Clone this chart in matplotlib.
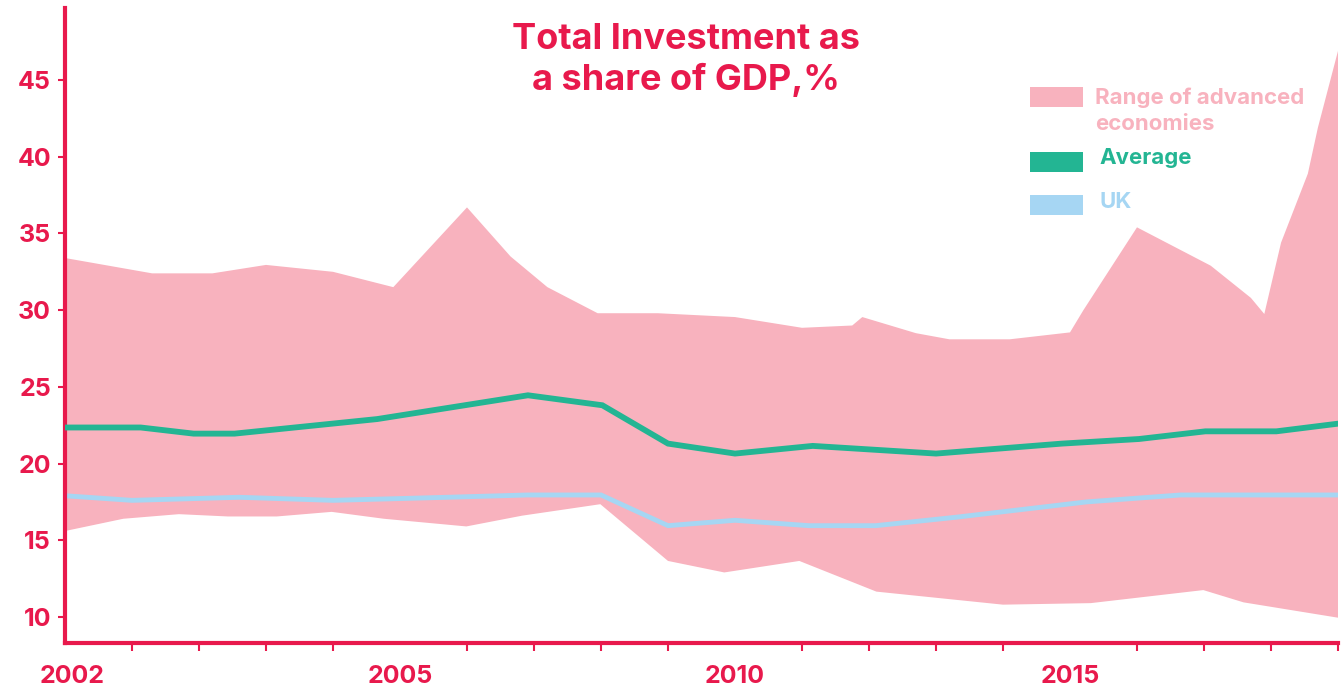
import matplotlib
matplotlib.use("Agg")
import matplotlib.pyplot as plt
from matplotlib.patches import Rectangle
import numpy as np

plt.rcParams["font.family"] = ["Inter", "DejaVu Sans"]

# upper edge of the advanced-economy range (year, % of GDP)
range_hi_x = [2000.0, 2001.3, 2002.2, 2003.0, 2004.0, 2004.9, 2006.0, 2006.65, 2007.2, 2007.95,
              2008.85, 2010.0, 2011.0, 2011.75, 2011.9, 2012.7, 2013.2, 2014.1, 2015.0, 2015.2,
              2016.0, 2017.1, 2017.7, 2017.9, 2018.15, 2018.55, 2018.7, 2019.0]
range_hi = [33.4, 32.4, 32.4, 32.95, 32.5, 31.5, 36.7, 33.5, 31.5, 29.8,
            29.8, 29.55, 28.85, 29.0, 29.55, 28.5, 28.1, 28.1, 28.55, 30.0,
            35.4, 32.9, 30.8, 29.75, 34.4, 38.9, 41.9, 46.9]

# lower edge of the range
range_lo_x = [2000.0, 2000.87, 2001.7, 2002.43, 2003.16, 2003.98, 2004.76, 2005.99, 2006.82, 2007.99,
              2009.0, 2009.84, 2010.96, 2012.11, 2014.0, 2015.31, 2016.99, 2017.59, 2019.0]
range_lo = [15.6, 16.4, 16.7, 16.55, 16.55, 16.85, 16.4, 15.9, 16.6, 17.35,
            13.65, 12.9, 13.65, 11.65, 10.8, 10.9, 11.75, 10.95, 9.95]

avg_x = [2000.0, 2001.13, 2001.92, 2002.53, 2004.66, 2006.91, 2008.02, 2009.0, 2010.0, 2011.16,
         2013.0, 2014.88, 2016.03, 2017.02, 2018.08, 2019.0]
avg = [22.35, 22.35, 21.95, 21.95, 22.9, 24.45, 23.8, 21.3, 20.65, 21.15,
       20.65, 21.3, 21.6, 22.1, 22.1, 22.6]

uk_x = [2000.0, 2001.0, 2002.6, 2004.0, 2005.7, 2006.9, 2008.0, 2009.0, 2010.0, 2011.1,
        2012.1, 2013.3, 2015.25, 2016.65, 2019.0]
uk = [17.9, 17.6, 17.8, 17.6, 17.8, 17.95, 17.95, 15.95, 16.3, 15.95,
      15.95, 16.5, 17.5, 17.95, 17.95]

y_ticks = [10, 15, 20, 25, 30, 35, 40, 45]
x_label_pos = [2000.1, 2005, 2010, 2015]
x_labels = ["2002", "2005", "2010", "2015"]
x_minor = list(range(2001, 2020))

RED = "#E8194C"
PINK = "#F8B2BE"
GREEN = "#23B593"
BLUE = "#A6D6F3"

fig = plt.figure(figsize=(13.41, 6.92), dpi=100)
ax = fig.add_axes([65 / 1341, 49 / 692, 1273 / 1341, 635 / 692])

poly_x = np.concatenate([range_hi_x, range_lo_x[::-1]])
poly_y = np.concatenate([range_hi, range_lo[::-1]])
ax.fill(poly_x, poly_y, color=PINK, lw=0, zorder=1)
ax.plot(avg_x, avg, color=GREEN, lw=4.2, solid_joinstyle="miter", zorder=3)
ax.plot(uk_x, uk, color=BLUE, lw=3.5, solid_joinstyle="miter", zorder=2)

ax.set_xlim(2000, 2019)
ax.set_ylim(8.3, 49.7)

for s in ["top", "right"]:
    ax.spines[s].set_visible(False)
for s in ["left", "bottom"]:
    ax.spines[s].set_color(RED)
    ax.spines[s].set_linewidth(3)

ax.set_yticks(y_ticks)
ax.tick_params(axis="y", colors=RED, labelcolor=RED, length=5, width=1.5, pad=5,
               labelsize=18)
ax.set_xticks(x_label_pos)
ax.set_xticklabels(x_labels)
ax.set_xticks(x_minor, minor=True)
ax.tick_params(axis="x", which="major", length=0, pad=16, labelcolor=RED, labelsize=18)
ax.tick_params(axis="x", which="minor", length=6, width=1.5, color=RED)
for lab in ax.get_xticklabels() + ax.get_yticklabels():
    lab.set_fontweight("bold")

fig.text(686 / 1341, 1 - 60 / 692, "Total Investment as\na share of GDP,%", color=RED,
         fontsize=26, fontweight="bold", ha="center", va="center", linespacing=1.25)

# legend drawn by hand to keep the handle on the first text line
leg = [
    (0.844, PINK, "Range of advanced\neconomies", 0.809, 0.838),
    (0.742, GREEN, "Average", 0.813, 0.764),
    (0.674, BLUE, "UK", 0.813, 0.694),
]
for yb, col, txt, tx, ty in leg:
    ax.add_patch(Rectangle((0.758, yb), 0.0416, 0.0315, transform=ax.transAxes,
                           facecolor=col, edgecolor="none", zorder=5))
    ax.text(tx, ty, txt, transform=ax.transAxes, color=col, fontsize=16,
            fontweight="bold", va="center", ha="left", linespacing=1.35, zorder=5)

fig.savefig("out.png", dpi=100, facecolor="white")
